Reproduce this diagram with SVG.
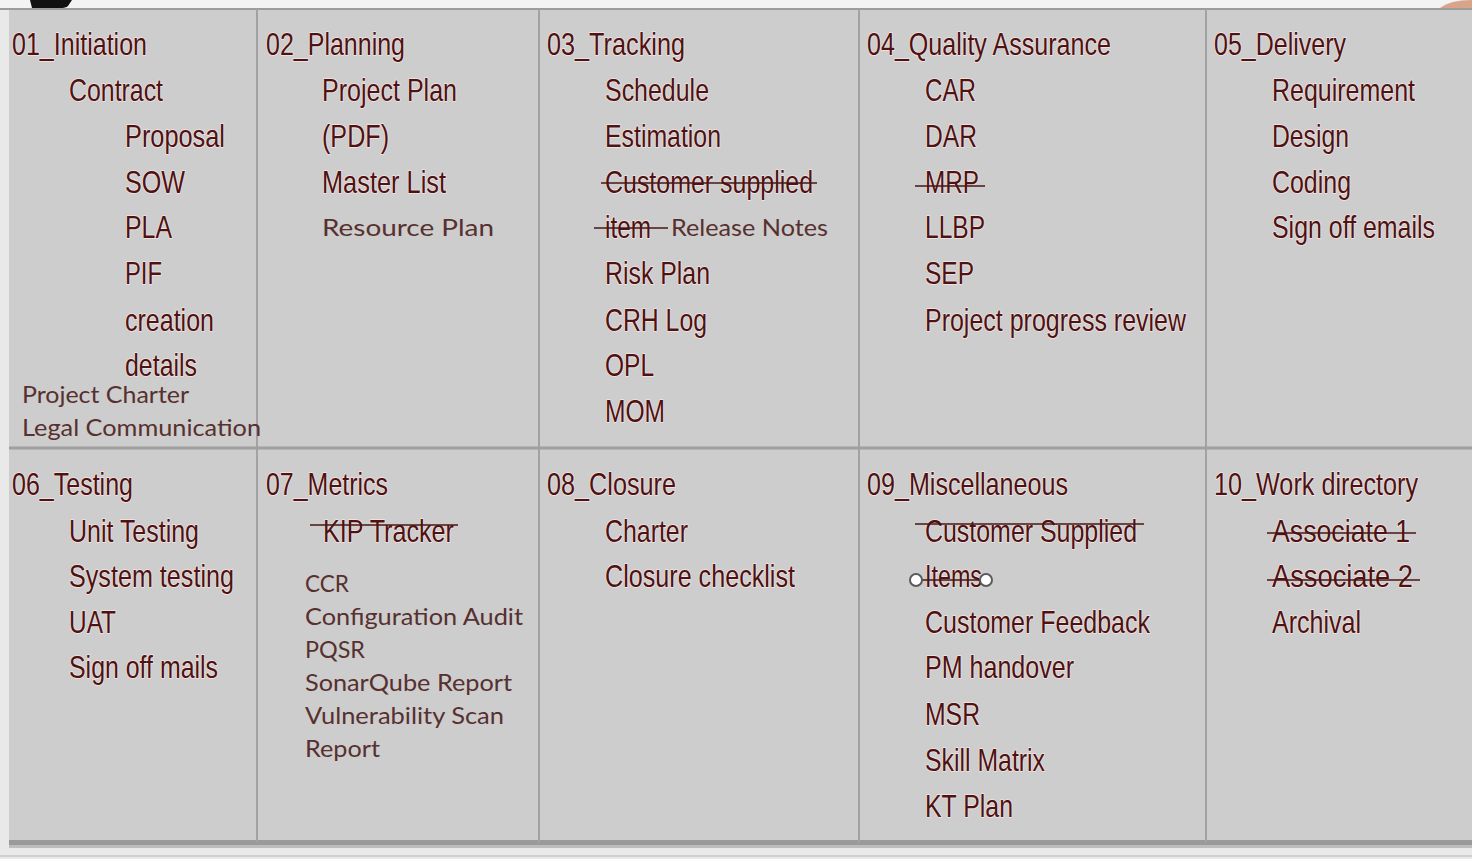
<svg xmlns="http://www.w3.org/2000/svg" width="1472" height="859" viewBox="0 0 1472 859">
<style>
.n{font-family:"Liberation Sans",Arial,sans-serif;font-size:32px;fill:#4e1212;stroke:#f3e6e6;stroke-width:1.6px;paint-order:stroke;stroke-linejoin:round}
.c{font-family:Lato,"Open Sans",sans-serif;font-size:24px;fill:#573030}
.s{stroke:#4a1414;stroke-width:1.6}
.g{stroke:#a2a2a2;stroke-width:2}
</style>
<rect x="0" y="0" width="1472" height="859" fill="#e9e9e9"/>
<rect x="0" y="0" width="1472" height="8" fill="#f3f3f3"/>
<path d="M30 0 L72 0 L68 6 Q66 8 60 8 L32 8 Z" fill="#111"/>
<path d="M1440 8 Q1450 0 1472 0 L1472 8 Z" fill="#d9a58a"/>
<rect x="9" y="8" width="1463" height="834" fill="#cdcdcd"/>
<line x1="0" y1="9" x2="1472" y2="9" stroke="#9c9c9c" stroke-width="2"/>
<rect x="9" y="840" width="1463" height="5" fill="#9a9a9a"/>
<rect x="9" y="845" width="1463" height="3" fill="#bdbdbd"/>
<line x1="0" y1="856" x2="1472" y2="856" stroke="#cfcfcf" stroke-width="2"/>
<g id="grid">
<line class="g" x1="257" y1="9" x2="257" y2="842"/>
<line class="g" x1="539" y1="9" x2="539" y2="842"/>
<line class="g" x1="859" y1="9" x2="859" y2="842"/>
<line class="g" x1="1206" y1="9" x2="1206" y2="842"/>
<line x1="9" y1="448" x2="1472" y2="448" stroke="#a0a0a0" stroke-width="3"/>
</g>
<g id="c01">
<text class="n" x="12" y="55" textLength="135" lengthAdjust="spacingAndGlyphs">01_Initiation</text>
<text class="n" x="69" y="101" textLength="94" lengthAdjust="spacingAndGlyphs">Contract</text>
<text class="n" x="125" y="147" textLength="100" lengthAdjust="spacingAndGlyphs">Proposal</text>
<text class="n" x="125" y="193" textLength="60" lengthAdjust="spacingAndGlyphs">SOW</text>
<text class="n" x="125" y="238" textLength="47" lengthAdjust="spacingAndGlyphs">PLA</text>
<text class="n" x="125" y="284" textLength="37" lengthAdjust="spacingAndGlyphs">PIF</text>
<text class="n" x="125" y="331" textLength="89" lengthAdjust="spacingAndGlyphs">creation</text>
<text class="n" x="125" y="376" textLength="72" lengthAdjust="spacingAndGlyphs">details</text>
<text class="c" x="22" y="403" textLength="167" lengthAdjust="spacingAndGlyphs">Project Charter</text>
<text class="c" x="22" y="436" textLength="239" lengthAdjust="spacingAndGlyphs">Legal Communication</text>
</g>
<g id="c02">
<text class="n" x="266" y="55" textLength="139" lengthAdjust="spacingAndGlyphs">02_Planning</text>
<text class="n" x="322" y="101" textLength="135" lengthAdjust="spacingAndGlyphs">Project Plan</text>
<text class="n" x="322" y="147" textLength="67" lengthAdjust="spacingAndGlyphs">(PDF)</text>
<text class="n" x="322" y="193" textLength="124" lengthAdjust="spacingAndGlyphs">Master List</text>
<text class="c" x="322" y="236" textLength="172" lengthAdjust="spacingAndGlyphs">Resource Plan</text>
</g>
<g id="c03">
<text class="n" x="547" y="55" textLength="138" lengthAdjust="spacingAndGlyphs">03_Tracking</text>
<text class="n" x="605" y="101" textLength="104" lengthAdjust="spacingAndGlyphs">Schedule</text>
<text class="n" x="605" y="147" textLength="116" lengthAdjust="spacingAndGlyphs">Estimation</text>
<text class="n" x="605" y="193" textLength="208" lengthAdjust="spacingAndGlyphs">Customer supplied</text>
<line class="s" x1="601" y1="183" x2="817" y2="183"/>
<text class="n" x="605" y="238" textLength="46" lengthAdjust="spacingAndGlyphs">item</text>
<line class="s" x1="594" y1="228" x2="668" y2="228"/>
<text class="c" x="671" y="236" textLength="157" lengthAdjust="spacingAndGlyphs">Release Notes</text>
<text class="n" x="605" y="284" textLength="105" lengthAdjust="spacingAndGlyphs">Risk Plan</text>
<text class="n" x="605" y="331" textLength="102" lengthAdjust="spacingAndGlyphs">CRH Log</text>
<text class="n" x="605" y="376" textLength="49" lengthAdjust="spacingAndGlyphs">OPL</text>
<text class="n" x="605" y="422" textLength="60" lengthAdjust="spacingAndGlyphs">MOM</text>
</g>
<g id="c04">
<text class="n" x="867" y="55" textLength="244" lengthAdjust="spacingAndGlyphs">04_Quality Assurance</text>
<text class="n" x="925" y="101" textLength="51" lengthAdjust="spacingAndGlyphs">CAR</text>
<text class="n" x="925" y="147" textLength="52" lengthAdjust="spacingAndGlyphs">DAR</text>
<text class="n" x="925" y="193" textLength="54" lengthAdjust="spacingAndGlyphs">MRP</text>
<line class="s" x1="915" y1="186" x2="985" y2="186"/>
<text class="n" x="925" y="238" textLength="60" lengthAdjust="spacingAndGlyphs">LLBP</text>
<text class="n" x="925" y="284" textLength="49" lengthAdjust="spacingAndGlyphs">SEP</text>
<text class="n" x="925" y="331" textLength="261" lengthAdjust="spacingAndGlyphs">Project progress review</text>
</g>
<g id="c05">
<text class="n" x="1214" y="55" textLength="132" lengthAdjust="spacingAndGlyphs">05_Delivery</text>
<text class="n" x="1272" y="101" textLength="143" lengthAdjust="spacingAndGlyphs">Requirement</text>
<text class="n" x="1272" y="147" textLength="77" lengthAdjust="spacingAndGlyphs">Design</text>
<text class="n" x="1272" y="193" textLength="79" lengthAdjust="spacingAndGlyphs">Coding</text>
<text class="n" x="1272" y="238" textLength="163" lengthAdjust="spacingAndGlyphs">Sign off emails</text>
</g>
<g id="c06">
<text class="n" x="12" y="495" textLength="121" lengthAdjust="spacingAndGlyphs">06_Testing</text>
<text class="n" x="69" y="542" textLength="130" lengthAdjust="spacingAndGlyphs">Unit Testing</text>
<text class="n" x="69" y="587" textLength="165" lengthAdjust="spacingAndGlyphs">System testing</text>
<text class="n" x="69" y="633" textLength="47" lengthAdjust="spacingAndGlyphs">UAT</text>
<text class="n" x="69" y="678" textLength="149" lengthAdjust="spacingAndGlyphs">Sign off mails</text>
</g>
<g id="c07">
<text class="n" x="266" y="495" textLength="122" lengthAdjust="spacingAndGlyphs">07_Metrics</text>
<text class="n" x="323" y="542" textLength="131" lengthAdjust="spacingAndGlyphs">KIP Tracker</text>
<line class="s" x1="310" y1="525" x2="458" y2="525"/>
<text class="c" x="305" y="592" textLength="44" lengthAdjust="spacingAndGlyphs">CCR</text>
<text class="c" x="305" y="625" textLength="218" lengthAdjust="spacingAndGlyphs">Configuration Audit</text>
<text class="c" x="305" y="658" textLength="60" lengthAdjust="spacingAndGlyphs">PQSR</text>
<text class="c" x="305" y="691" textLength="207" lengthAdjust="spacingAndGlyphs">SonarQube Report</text>
<text class="c" x="305" y="724" textLength="199" lengthAdjust="spacingAndGlyphs">Vulnerability Scan</text>
<text class="c" x="305" y="757" textLength="75" lengthAdjust="spacingAndGlyphs">Report</text>
</g>
<g id="c08">
<text class="n" x="547" y="495" textLength="129" lengthAdjust="spacingAndGlyphs">08_Closure</text>
<text class="n" x="605" y="542" textLength="83" lengthAdjust="spacingAndGlyphs">Charter</text>
<text class="n" x="605" y="587" textLength="190" lengthAdjust="spacingAndGlyphs">Closure checklist</text>
</g>
<g id="c09">
<text class="n" x="867" y="495" textLength="201" lengthAdjust="spacingAndGlyphs">09_Miscellaneous</text>
<text class="n" x="925" y="542" textLength="212" lengthAdjust="spacingAndGlyphs">Customer Supplied</text>
<line class="s" x1="915" y1="524" x2="1144" y2="524"/>
<text class="n" x="925" y="587" textLength="57" lengthAdjust="spacingAndGlyphs">Items</text>
<line class="s" x1="916" y1="580" x2="986" y2="580"/>
<circle cx="916" cy="580" r="6" fill="#fff" stroke="#5a5a5a" stroke-width="2"/>
<circle cx="986" cy="580" r="6" fill="#fff" stroke="#5a5a5a" stroke-width="2"/>
<text class="n" x="925" y="633" textLength="225" lengthAdjust="spacingAndGlyphs">Customer Feedback</text>
<text class="n" x="925" y="678" textLength="149" lengthAdjust="spacingAndGlyphs">PM handover</text>
<text class="n" x="925" y="725" textLength="55" lengthAdjust="spacingAndGlyphs">MSR</text>
<text class="n" x="925" y="771" textLength="120" lengthAdjust="spacingAndGlyphs">Skill Matrix</text>
<text class="n" x="925" y="817" textLength="88" lengthAdjust="spacingAndGlyphs">KT Plan</text>
</g>
<g id="c10">
<text class="n" x="1214" y="495" textLength="204" lengthAdjust="spacingAndGlyphs">10_Work directory</text>
<text class="n" x="1272" y="542" textLength="138" lengthAdjust="spacingAndGlyphs">Associate 1</text>
<line class="s" x1="1267" y1="533" x2="1416" y2="533"/>
<text class="n" x="1272" y="587" textLength="141" lengthAdjust="spacingAndGlyphs">Associate 2</text>
<line class="s" x1="1267" y1="580" x2="1420" y2="580"/>
<text class="n" x="1272" y="633" textLength="89" lengthAdjust="spacingAndGlyphs">Archival</text>
</g>
</svg>
